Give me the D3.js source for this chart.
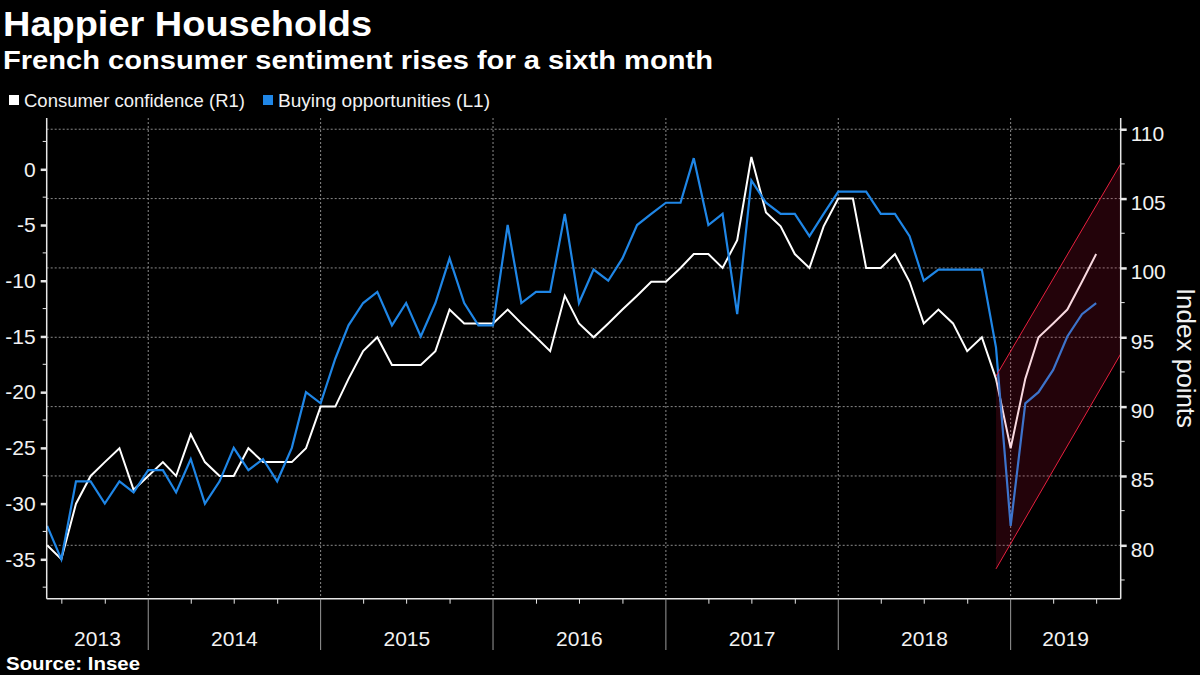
<!DOCTYPE html>
<html><head><meta charset="utf-8">
<script src="https://cdn.jsdelivr.net/npm/d3@7"></script>
<style>body{margin:0;background:#000}svg{display:block}</style>
</head><body><svg id="c" width="1200" height="675"></svg>
<script>
// ---- data ----
const firstMonth = "2013-05";
const confidenceR1 = [
  80, 79, 83, 85, 86, 87, 84, 85,
  86, 85, 88, 86, 85, 85, 87, 86, 86, 86, 87, 90,
  90, 92, 94, 95, 93, 93, 93, 94, 97, 96, 96, 96,
  97, 96, 95, 94, 98, 96, 95, 96, 97, 98, 99, 99,
  100, 101, 101, 100, 102, 108, 104, 103, 101, 100, 103, 105,
  105, 100, 100, 101, 99, 96, 97, 96, 94, 95, 92, 87,
  92, 95, 96, 97, 99, 101
];
const buyingL1 = [
  -32, -35, -28, -28, -30, -28, -29, -27,
  -27, -29, -26, -30, -28, -25, -27, -26, -28, -25, -20, -21,
  -17, -14, -12, -11, -14, -12, -15, -12, -8, -12, -14, -14,
  -5, -12, -11, -11, -4, -12, -9, -10, -8, -5, -4, -3,
  -3, 1, -5, -4, -13, -1, -3, -4, -4, -6, -4, -2,
  -2, -2, -4, -4, -6, -10, -9, -9, -9, -9, -16, -32,
  -21, -20, -18, -15, -13, -12
];
const leftTicks = [-35, -30, -25, -20, -15, -10, -5, 0];
const rightTicks = [80, 85, 90, 95, 100, 105, 110];
const yearLabels = ["2013", "2014", "2015", "2016", "2017", "2018", "2019"];
const seriesNames = ["Consumer confidence (R1)", "Buying opportunities (L1)"];
// channel annotation (right-axis units)
const bandDates = ["2018-12-01", "2019-08-22"];
const bandTop = [92.2, 107.5];
const bandBottom = [78.3, 93.8];

// ---- layout ----
const svg = d3.select("#c");
svg.append("rect").attr("width", 1200).attr("height", 675).attr("fill", "#000");
const L = 46.7, R = 1120.7, T = 118, B = 598.7;
const FONT = "'Liberation Sans', Arial, sans-serif";

const parse = d3.timeParse("%Y-%m-%d");
const x = d3.scaleTime().domain([new Date(2013, 4, 31), new Date(2019, 7, 22)]).range([L, R]);
const yL = d3.scaleLinear().domain([-38.535, 4.604]).range([B, T]);
const yR = d3.scaleLinear().domain([76.15, 110.81]).range([B, T]);

const m0 = d3.timeParse("%Y-%m")(firstMonth);
const dates = confidenceR1.map((_, i) => d3.timeMonth.offset(m0, i + 1));

// gridlines
const grid = svg.append("g");
grid.selectAll("line.h").data(rightTicks).join("line")
  .attr("x1", L).attr("x2", R).attr("y1", d => yR(d)).attr("y2", d => yR(d))
  .attr("stroke", "#8a8a8a").attr("stroke-width", 1).attr("stroke-dasharray", "2,2");
const yearStarts = d3.range(2014, 2020).map(y => new Date(y, 0, 1));
grid.selectAll("line.v").data(yearStarts).join("line")
  .attr("x1", d => x(d)).attr("x2", d => x(d)).attr("y1", T).attr("y2", B)
  .attr("stroke", "#8a8a8a").attr("stroke-width", 1).attr("stroke-dasharray", "2,2");

// lines
const lineR = d3.line().x((d, i) => x(dates[i])).y(d => yR(d));
const lineL = d3.line().x((d, i) => x(dates[i])).y(d => yL(d));
svg.append("path").datum(confidenceR1).attr("d", lineR)
  .attr("fill", "none").attr("stroke", "#ffffff").attr("stroke-width", 2).attr("stroke-linejoin", "miter");
svg.append("path").datum(buyingL1).attr("d", lineL)
  .attr("fill", "none").attr("stroke", "#1f86e6").attr("stroke-width", 2.2).attr("stroke-linejoin", "miter");

// band annotation
const bx0 = x(parse(bandDates[0])), bx1 = x(parse(bandDates[1]));
const bandPts = [[bx0, yR(bandTop[0])], [bx1, yR(bandTop[1])], [bx1, yR(bandBottom[1])], [bx0, yR(bandBottom[0])]];
svg.append("path").attr("d", "M" + bandPts.join("L") + "Z")
  .attr("fill", "rgba(220,20,60,0.16)").attr("stroke", "none");
svg.append("line").attr("x1", bandPts[0][0]).attr("y1", bandPts[0][1]).attr("x2", bandPts[1][0]).attr("y2", bandPts[1][1])
  .attr("stroke", "#e8203f").attr("stroke-width", 1);
svg.append("line").attr("x1", bandPts[3][0]).attr("y1", bandPts[3][1]).attr("x2", bandPts[2][0]).attr("y2", bandPts[2][1])
  .attr("stroke", "#e8203f").attr("stroke-width", 1);

// axes
const axCol = "#e6e6e6";
// left axis
const gl = svg.append("g").attr("transform", `translate(${L},0)`)
  .call(d3.axisLeft(yL).tickValues(leftTicks).tickSize(6).tickPadding(5).tickFormat(d3.format("d")));
gl.select(".domain").remove();
gl.selectAll(".tick line").attr("stroke", axCol).attr("stroke-width", 2.5);
gl.selectAll(".tick text").attr("fill", "#f2f2f2").attr("font-family", FONT).attr("font-size", 21)
  .text(d => d < 0 ? "-" + Math.abs(d) : d);
gl.selectAll("line.minor").data(d3.range(-37.5, 4.6, 5)).join("line")
  .attr("x1", -4).attr("x2", 0).attr("y1", d => yL(d)).attr("y2", d => yL(d)).attr("stroke", axCol);
// right axis
const gr = svg.append("g").attr("transform", `translate(${R},0)`)
  .call(d3.axisRight(yR).tickValues(rightTicks).tickSize(6).tickPadding(4).tickFormat(d3.format("d")));
gr.select(".domain").remove();
gr.selectAll(".tick line").attr("stroke", axCol).attr("stroke-width", 2.5);
gr.selectAll(".tick text").attr("fill", "#f2f2f2").attr("font-family", FONT).attr("font-size", 21).attr("dy", "0.52em");
gr.selectAll("line.minor").data(d3.range(77.5, 110.81, 5)).join("line")
  .attr("x1", 0).attr("x2", 4).attr("y1", d => yR(d)).attr("y2", d => yR(d)).attr("stroke", axCol);

// axis frame lines
svg.append("line").attr("x1", L).attr("x2", L).attr("y1", T).attr("y2", B).attr("stroke", axCol).attr("stroke-width", 1.5);
svg.append("line").attr("x1", R).attr("x2", R).attr("y1", T).attr("y2", B).attr("stroke", axCol).attr("stroke-width", 1.5);

// bottom axis
const quarterTicks = d3.timeMonth.every(3).range(new Date(2013, 5, 1), new Date(2019, 7, 22))
  .filter(d => d.getMonth() !== 0);
const gb = svg.append("g").attr("transform", `translate(0,${B})`)
  .call(d3.axisBottom(x).tickValues(quarterTicks).tickSize(5).tickFormat(""));
gb.select(".domain").remove();
gb.selectAll(".tick line").attr("stroke", axCol);
svg.append("line").attr("x1", L).attr("x2", R).attr("y1", B).attr("y2", B).attr("stroke", axCol).attr("stroke-width", 1.5);
svg.append("g").selectAll("line").data(yearStarts).join("line")
  .attr("x1", d => x(d)).attr("x2", d => x(d)).attr("y1", B).attr("y2", 650)
  .attr("stroke", "#9a9a9a").attr("stroke-width", 1);
const yearEdges = [x.domain()[0], ...yearStarts, x.domain()[1]];
svg.append("g").selectAll("text").data(yearLabels).join("text")
  .attr("x", (d, i) => (x(yearEdges[i]) + x(yearEdges[i + 1])) / 2)
  .attr("y", 646).attr("text-anchor", "middle")
  .attr("fill", "#f2f2f2").attr("font-family", FONT).attr("font-size", 21).text(d => d);

// right axis title
svg.append("text").attr("transform", "translate(1177,358) rotate(90)")
  .attr("text-anchor", "middle").attr("fill", "#f2f2f2").attr("font-family", FONT).attr("font-size", 26)
  .text("Index points");

// titles
svg.append("text").attr("x", 3).attr("y", 36).attr("fill", "#fff").attr("font-family", FONT)
  .attr("font-weight", "bold").attr("font-size", 35).attr("textLength", 369).attr("lengthAdjust", "spacingAndGlyphs")
  .text("Happier Households");
svg.append("text").attr("x", 3).attr("y", 69).attr("fill", "#fff").attr("font-family", FONT)
  .attr("font-weight", "bold").attr("font-size", 26).attr("textLength", 710).attr("lengthAdjust", "spacingAndGlyphs")
  .text("French consumer sentiment rises for a sixth month");

// legend
const legCols = ["#ffffff", "#1f86e6"];
const legX = [9, 263], legW = [221, 212];
seriesNames.forEach((n, i) => {
  svg.append("rect").attr("x", legX[i]).attr("y", 95).attr("width", 10).attr("height", 10).attr("fill", legCols[i]);
  svg.append("text").attr("x", legX[i] + 15).attr("y", 106.5).attr("fill", "#f2f2f2").attr("font-family", FONT)
    .attr("font-size", 18).attr("textLength", legW[i]).attr("lengthAdjust", "spacingAndGlyphs").text(n);
});

// source
svg.append("text").attr("x", 6).attr("y", 670).attr("fill", "#fff").attr("font-family", FONT)
  .attr("font-weight", "bold").attr("font-size", 18).attr("textLength", 134).attr("lengthAdjust", "spacingAndGlyphs")
  .text("Source: Insee");
</script></body></html>
